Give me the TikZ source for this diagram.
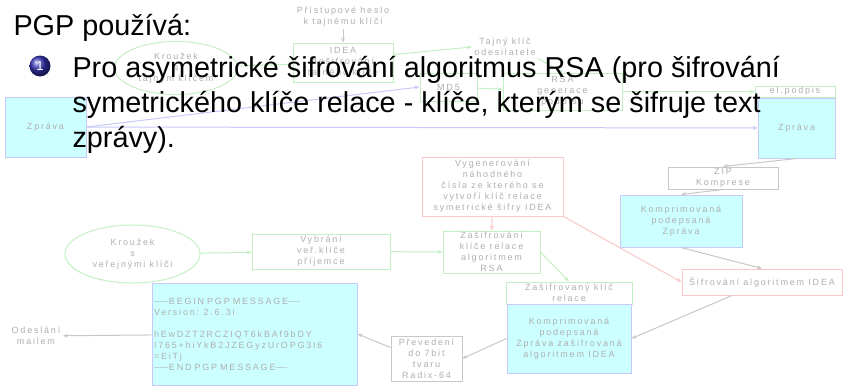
\documentclass[tikz,border=0pt]{standalone}
\usepackage{fontspec}
\setmainfont{Liberation Sans}
\newfontfamily\diagfont[LetterSpace=20]{Liberation Sans}
\usetikzlibrary{shapes.geometric, arrows.meta}

\definecolor{dgreen}{RGB}{195,240,195}
\definecolor{dblue}{RGB}{200,200,250}
\definecolor{dcyan}{RGB}{204,255,255}
\definecolor{dred}{RGB}{250,200,200}
\definecolor{dgray}{RGB}{200,200,200}
\definecolor{dtext}{RGB}{175,175,175}
\definecolor{ballblue}{RGB}{51,51,179}

\newcommand\dsh{\mbox{-}}

\begin{document}
\begin{tikzpicture}[x=0.5pt, y=-0.5pt, line width=0.5pt,
  dbox/.style={draw, inner sep=0pt, align=center, text=dtext,
    font=\diagfont\fontsize{4.5}{5.5}\selectfont},
  gbox/.style={dbox, draw=dgreen},
  bbox/.style={dbox, draw=dblue, fill=dcyan},
  rbox/.style={dbox, draw=dred},
  kbox/.style={dbox, draw=dgray},
  lbl/.style={align=center, inner sep=1pt, text=dtext,
    font=\diagfont\fontsize{4.5}{5.5}\selectfont},
  arr/.style={-{Stealth[length=2.5pt,width=2pt]}},
  main/.style={anchor=base west, inner sep=0pt,
    font=\fontsize{14.4}{17.5}\selectfont}]

  \fill[white] (0,0) rectangle (844,386);

  % signing the message
  \node[lbl] (heslo) at (343,17) {Přístupové heslo\\k tajnému klíči};
  \node[gbox, minimum width=50pt, minimum height=19.5pt] (idea) at (343,62.5)
    {IDEA\\dešifrování\\tajného klíče};
  \node[gbox, ellipse, minimum width=61.5pt, minimum height=26.5pt] (kruh1) at (176,68)
    {Kroužek\\s\\tajným klíčem};
  \node[bbox, minimum width=40.5pt, minimum height=30pt] (zprava1) at (45.5,127) {Zpráva};
  \node[gbox, minimum width=28.5pt, minimum height=14pt] (md5) at (448.5,87) {MD5};
  \node[lbl] (tajny) at (505,47) {Tajný klíč\\odesilatele};
  \node[gbox, minimum width=59.5pt, minimum height=18.5pt] (rsa) at (562.5,91.5)
    {RSA\\generace\\podpisu};
  \node[gbox, minimum width=40pt, minimum height=5.5pt] (podpis) at (795,91.5) {el.podpis};
  \node[bbox, minimum width=38.5pt, minimum height=30pt] (zprava2) at (796.5,128) {Zpráva};

  % compression and IDEA
  \node[kbox, minimum width=55pt, minimum height=11pt] (zip) at (723,178) {ZIP\\Komprese};
  \node[bbox, minimum width=61pt, minimum height=26pt] (komp) at (681,221)
    {Komprimovaná\\podepsaná\\Zpráva};
  \node[rbox, minimum width=80pt, minimum height=13pt] (sifidea) at (762,282)
    {Šifrování algoritmem IDEA};
  \node[rbox, minimum width=70.5pt, minimum height=29.5pt] (gen) at (492.5,186.5)
    {Vygenerování\\náhodného\\čísla ze kterého se\\vytvoří klíč relace\\symetrické šifry IDEA};

  % session key
  \node[gbox, ellipse, minimum width=67.5pt, minimum height=29pt] (kruh2) at (132.5,254)
    {Kroužek\\s\\veřejnými klíči};
  \node[gbox, minimum width=69pt, minimum height=17.5pt] (vybr) at (321,251.5)
    {Vybrání\\veř.klíče\\příjemce};
  \node[gbox, minimum width=48.5pt, minimum height=21pt] (zasif) at (491.5,252)
    {Zašifrování\\klíče relace\\algoritmem\\RSA};
  \node[gbox, minimum width=63pt, minimum height=11pt] (klic) at (569,293)
    {Zašifrovaný klíč\\relace};
  \node[bbox, minimum width=62pt, minimum height=34.5pt] (kompi) at (569,338.5)
    {Komprimovaná\\podepsaná\\Zpráva zašifrovaná\\algoritmem IDEA};

  % output
  \node[kbox, minimum width=35.5pt, minimum height=22.5pt] (radix) at (426.5,358.5)
    {Převedení\\do 7bit\\tvaru\\Radix-64};
  \node[bbox, align=left, text width=100.5pt, inner xsep=1pt, minimum height=51pt]
    (pgp) at (254.5,334)
    {\dsh\dsh\dsh\dsh\dsh BEGIN PGP MESSAGE\dsh\dsh\dsh\dsh\\Version: 2.6.3i\\[5.5pt]
     hEwDZT2RCZIQT6kBAf9bDY\\I765+hiYkB2JZEGyzUrOPG3I6\\=EiTj\\
     \dsh\dsh\dsh\dsh\dsh END PGP MESSAGE\dsh\dsh\dsh\dsh};
  \node[lbl] (odesl) at (36,336) {Odeslání\\mailem};

  % connectors
  \draw[arr, dgray] (heslo) -- (idea);
  \draw[arr, dgreen] (kruh1) -- (idea);
  \draw[arr, dgreen] ([yshift=4pt]idea.east) -- (tajny.west);
  \draw[arr, dgreen] (tajny.south east) -- (rsa.north);
  \draw[arr, dblue] (zprava1.east) -- (md5.west);
  \draw[arr, dblue] (zprava1) -- (zprava2);
  \draw[arr, dgreen] (md5) -- (rsa);
  \draw[arr, dgreen] (rsa) -- (podpis);
  \draw[arr, dgray] (zprava2.south) -- (zip.north);
  \draw[arr, dgray] (zip.south) -- (komp.north);
  \draw[arr, dgray] (komp.south) -- (sifidea.north);
  \draw[arr, dred] (gen.south east) -- (sifidea.west);
  \draw[arr, dred] (gen) -- (zasif);
  \draw[arr, dgreen] (kruh2) -- (vybr);
  \draw[arr, dgreen] (vybr) -- (zasif);
  \draw[arr, dgreen] (zasif.east) -- (klic.north);
  \draw[arr, dgray] ([xshift=-15pt]sifidea.south) -- (kompi.east);
  \draw[arr, dgray] (kompi.west) -- (radix.east);
  \draw[arr, dgray] ([yshift=5.5pt]radix.west) -- (pgp.east);
  \draw[arr, dgray] (pgp) -- (odesl);

  % slide text
  \node[main] (title) at (13,35) {PGP používá:};
  \node[circle, shading=ball, ball color=ballblue, minimum size=10.5pt, inner sep=0pt,
    text=white, font=\fontsize{6.5}{6.5}\selectfont] (ball) at (40,66) {1};
  \node[main] (line1) at (72,77) {Pro asymetrické šifrování algoritmus RSA (pro šifrování};
  \node[main] (line2) at (72,112) {symetrického klíče relace - klíče, kterým se šifruje text};
  \node[main] (line3) at (72,147) {zprávy).};

\end{tikzpicture}
\end{document}
